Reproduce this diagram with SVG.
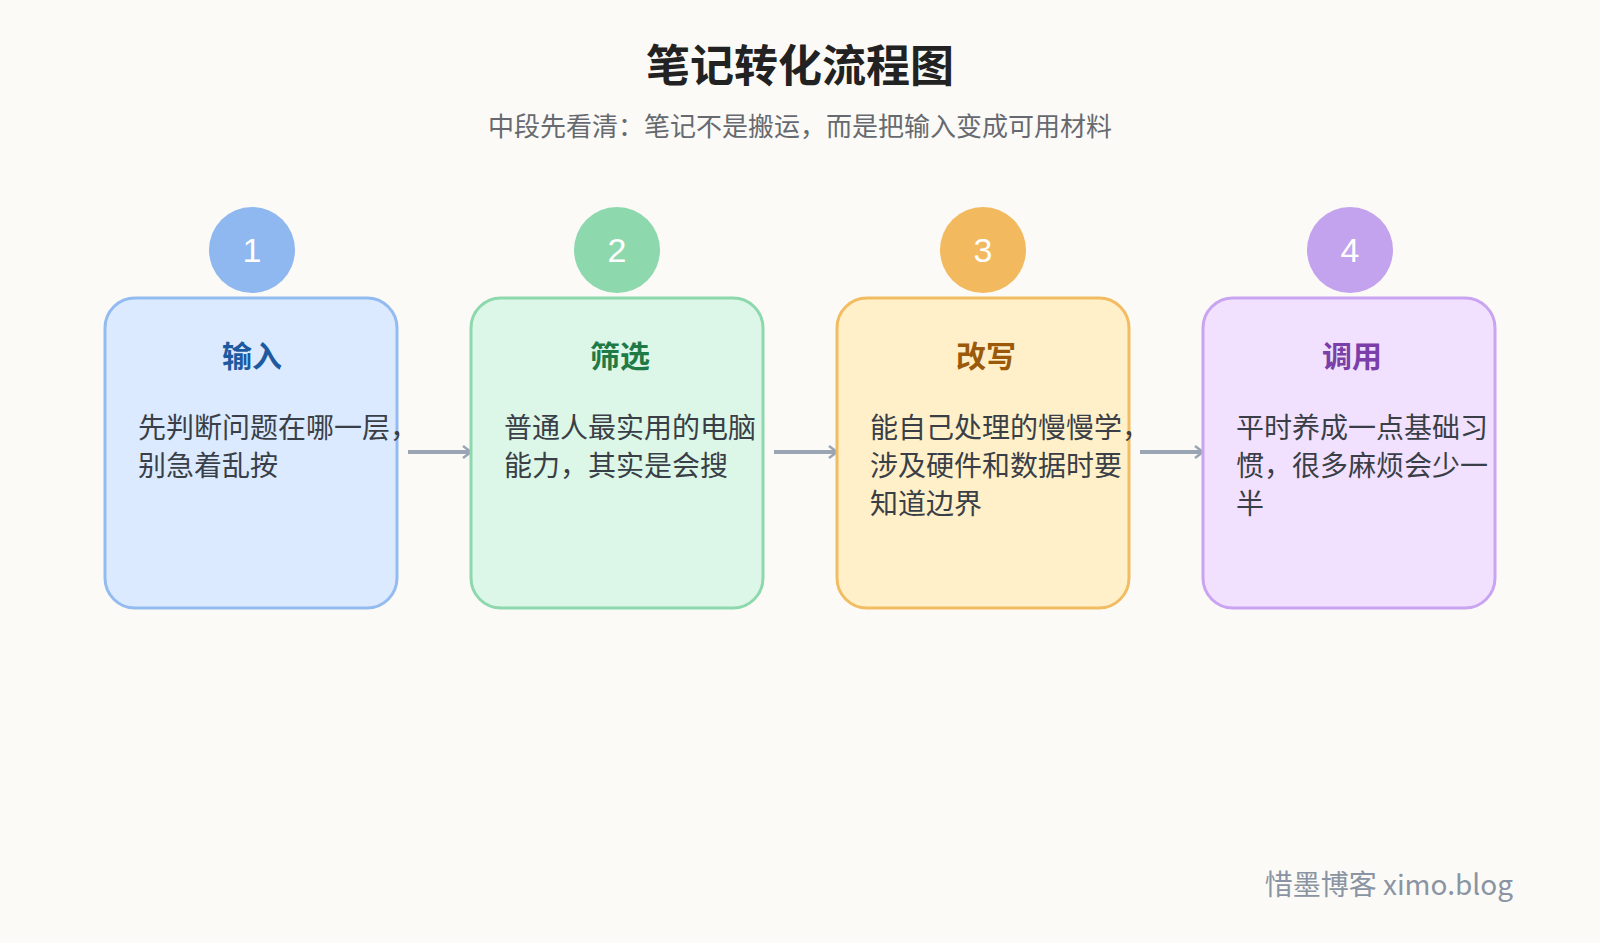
<svg xmlns="http://www.w3.org/2000/svg" width="1600" height="943" viewBox="0 0 1600 943">
<defs>
<style>
text{font-family:"Noto Sans CJK SC","Noto Sans",sans-serif}
.t{font-size:44px;font-weight:700;fill:#222;text-anchor:middle}
.s{font-size:26px;fill:#666a70;text-anchor:middle}
.h{font-size:30px;font-weight:700;text-anchor:middle}
.b{font-size:28px;fill:#3a3f47}
.n{font-size:34px;fill:#fff;text-anchor:middle;font-family:"Liberation Sans",sans-serif}
.box{stroke-width:3}
.c{stroke:#9aa5b4;stroke-width:4;fill:none}
</style>
<marker id="a" markerWidth="12" markerHeight="14" refX="10" refY="7" orient="auto" markerUnits="userSpaceOnUse">
<path d="M2,1 L10,7 L2,13" fill="none" stroke="#9aa5b4" stroke-width="2.5"/>
</marker>
</defs>
<rect width="1600" height="943" fill="#fbfaf6"/>
<text class="t" x="800" y="82">笔记转化流程图</text>
<text class="s" x="800" y="136">中段先看清：笔记不是搬运，而是把输入变成可用材料</text>
<g id="connectors">
<line class="c" x1="408" y1="452" x2="471" y2="452" marker-end="url(#a)"/>
<line class="c" x1="774" y1="452" x2="837" y2="452" marker-end="url(#a)"/>
<line class="c" x1="1140" y1="452" x2="1203" y2="452" marker-end="url(#a)"/>
</g>
<g id="n1">
<rect class="box" x="105" y="298" width="292" height="310" rx="30" fill="#dbeafe" stroke="#93bbf0"/>
<circle cx="252" cy="250" r="43" fill="#8fb8f0"/>
<text class="n" x="252" y="262">1</text>
<text class="h" x="252" y="367" fill="#1e5aa0">输入</text>
<text class="b" x="138" y="438">先判断问题在哪一层，</text>
<text class="b" x="138" y="476">别急着乱按</text>
</g>
<g id="n2">
<rect class="box" x="471" y="298" width="292" height="310" rx="30" fill="#dcf7e8" stroke="#8dd8ad"/>
<circle cx="617" cy="250" r="43" fill="#8dd8ad"/>
<text class="n" x="617" y="262">2</text>
<text class="h" x="620" y="367" fill="#1f7a45">筛选</text>
<text class="b" x="504" y="438">普通人最实用的电脑</text>
<text class="b" x="504" y="476">能力，其实是会搜</text>
</g>
<g id="n3">
<rect class="box" x="837" y="298" width="292" height="310" rx="30" fill="#fff0c9" stroke="#f2bc62"/>
<circle cx="983" cy="250" r="43" fill="#f2b95e"/>
<text class="n" x="983" y="262">3</text>
<text class="h" x="986" y="367" fill="#9a5a0a">改写</text>
<text class="b" x="870" y="438">能自己处理的慢慢学，</text>
<text class="b" x="870" y="476">涉及硬件和数据时要</text>
<text class="b" x="870" y="514">知道边界</text>
</g>
<g id="n4">
<rect class="box" x="1203" y="298" width="292" height="310" rx="30" fill="#f1e1ff" stroke="#c9a4f0"/>
<circle cx="1350" cy="250" r="43" fill="#c4a3ee"/>
<text class="n" x="1350" y="262">4</text>
<text class="h" x="1352" y="367" fill="#7a3fa8">调用</text>
<text class="b" x="1236" y="438">平时养成一点基础习</text>
<text class="b" x="1236" y="476">惯，很多麻烦会少一</text>
<text class="b" x="1236" y="514">半</text>
</g>
<text x="1513" y="895" font-size="28" fill="#8a94a3" text-anchor="end">惜墨博客 ximo.blog</text>
</svg>
